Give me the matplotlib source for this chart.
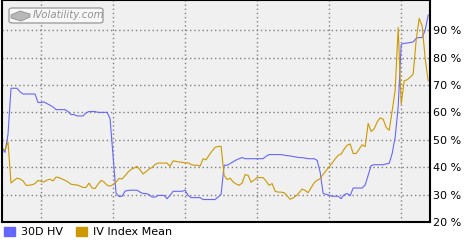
import matplotlib
matplotlib.use("Agg")
import matplotlib.pyplot as plt
from matplotlib.patches import Patch, Polygon, FancyBboxPatch

# 30D HV and IV Index Mean, in percent (one value per trading step)
hv_30d = [46.9, 45.4, 52.0, 68.8, 68.8, 68.8, 67.5, 66.7, 66.7, 66.7,
          66.7, 66.7, 63.6, 63.6, 63.8, 63.2, 62.6, 62.0, 61.0, 61.0,
          61.0, 61.0, 60.3, 59.2, 59.2, 58.7, 58.7, 58.7, 59.8, 60.3,
          60.3, 60.3, 60.0, 60.0, 60.0, 60.0, 57.8, 44.0, 30.5, 29.3,
          29.4, 31.3, 31.5, 31.6, 31.6, 31.6, 30.9, 30.4, 30.4, 30.0,
          29.1, 29.1, 29.7, 29.7, 29.7, 28.5, 29.7, 31.2, 31.2, 31.2,
          31.2, 31.6, 29.7, 28.9, 28.9, 28.9, 28.9, 28.2, 28.2, 28.2,
          28.2, 28.2, 29.1, 30.1, 40.7, 40.7, 41.3, 42.0, 42.6, 43.1,
          43.5, 43.1, 43.1, 43.1, 43.1, 43.1, 43.1, 43.1, 44.0, 44.6,
          44.6, 44.6, 44.6, 44.6, 44.4, 44.2, 44.1, 43.9, 43.7, 43.5,
          43.5, 43.3, 43.1, 43.1, 43.1, 42.5, 38.2, 30.4, 30.1, 29.8,
          29.4, 29.4, 29.4, 28.5, 30.0, 30.4, 29.6, 32.4, 32.4, 32.4,
          32.4, 33.5, 37.0, 40.6, 40.9, 40.9, 40.9, 40.9, 41.2, 41.4,
          45.0, 51.0, 62.0, 84.8, 85.2, 85.3, 85.5, 85.7, 87.0, 87.3,
          87.3, 90.0, 95.5]

iv_mean = [47.0, 46.2, 49.2, 34.2, 35.2, 36.0, 35.7, 35.0, 33.4, 33.4,
           33.6, 34.0, 35.2, 34.8, 34.6, 35.3, 35.6, 35.0, 36.4, 36.2,
           35.7, 35.2, 34.6, 33.8, 33.6, 33.5, 33.1, 32.6, 32.6, 34.2,
           32.4, 32.2, 33.8, 35.2, 34.6, 33.4, 33.1, 33.6, 34.6, 35.9,
           35.7, 36.9, 38.2, 39.2, 39.7, 40.3, 39.0, 37.5, 38.4, 39.3,
           39.9, 41.0, 41.5, 41.5, 41.5, 41.5, 40.3, 42.3, 42.1, 41.9,
           41.8, 41.5, 41.6, 41.0, 40.7, 40.7, 40.4, 43.1, 42.7, 44.4,
           45.9, 47.2, 47.6, 47.6, 37.0, 35.5, 36.0, 34.6, 33.9, 33.4,
           34.2, 37.3, 37.0, 34.5, 35.3, 36.2, 36.2, 36.2, 34.9, 33.4,
           34.0, 31.2, 30.9, 30.9, 30.7, 29.5, 28.3, 28.8, 29.5, 30.7,
           32.0, 31.5, 30.7, 32.5, 34.3, 35.2, 35.8, 37.4, 38.8, 40.1,
           41.5, 43.0, 44.3, 44.8, 46.6, 48.0, 48.5, 45.0, 45.0, 46.6,
           48.2, 47.5, 56.0, 53.0, 54.0, 56.5, 58.0, 57.5, 54.5, 53.5,
           60.5, 68.1, 91.0, 63.0, 71.5, 71.9, 72.8, 74.0, 86.5, 94.3,
           91.5, 79.5, 71.5]

y_ticks = [20, 30, 40, 50, 60, 70, 80, 90]
x_grid = [13, 37, 61, 85, 109, 133]

days = list(range(len(hv_30d)))

fig = plt.figure(figsize=(4.7, 2.4), dpi=100)
ax = fig.add_axes([2 / 470, 18 / 240, 428 / 470, 222 / 240])
ax.set_facecolor("#f0f0f0")

ax.plot(days, hv_30d, color="#6666ff", linewidth=0.8)
ax.plot(days, iv_mean, color="#cc9900", linewidth=0.8)

ax.set_xlim(0, len(days) - 0.4)
ax.set_ylim(20, 101)
ax.set_xticks(x_grid)
ax.set_xticklabels([])
ax.set_yticks(y_ticks)
ax.set_yticklabels([f"{v} %" for v in y_ticks], fontsize=8)
ax.yaxis.tick_right()
ax.tick_params(axis="both", length=0, pad=2)
ax.grid(True, color="#808080", linestyle=(0, (1, 2)), linewidth=1.0)
ax.set_axisbelow(True)
for s in ax.spines.values():
    s.set_color("black")
    s.set_linewidth(1.5)

# logo box
logo = FancyBboxPatch((9 / 470, 1 - 23 / 240), 94 / 470, 15 / 240,
                      boxstyle="round,pad=0,rounding_size=0.008",
                      transform=fig.transFigure, facecolor="#f8f8f8",
                      edgecolor="#a0a0a0", linewidth=1.0)
fig.patches.append(logo)
cube = Polygon([(11 / 470, 1 - 15 / 240), (20 / 470, 1 - 11 / 240),
                (30 / 470, 1 - 14 / 240), (30 / 470, 1 - 17 / 240),
                (21 / 470, 1 - 21 / 240), (11 / 470, 1 - 18 / 240)],
               closed=True, transform=fig.transFigure,
               facecolor="#b8b8b8", edgecolor="#909090", linewidth=0.6)
fig.patches.append(cube)
fig.text(33 / 470, 1 - 15.5 / 240, "IVolatility.com", fontsize=7.3,
         fontstyle="italic", color="#909090", va="center", ha="left")

handles = [Patch(color="#6666ff", label="30D HV"),
           Patch(color="#cc9900", label="IV Index Mean")]
fig.legend(handles=handles, loc="lower left", bbox_to_anchor=(-0.012, -0.03),
           ncol=2, frameon=False, fontsize=8, handlelength=1.0,
           handleheight=0.8, handletextpad=0.5, columnspacing=1.2)

fig.savefig("out.png", dpi=100)
